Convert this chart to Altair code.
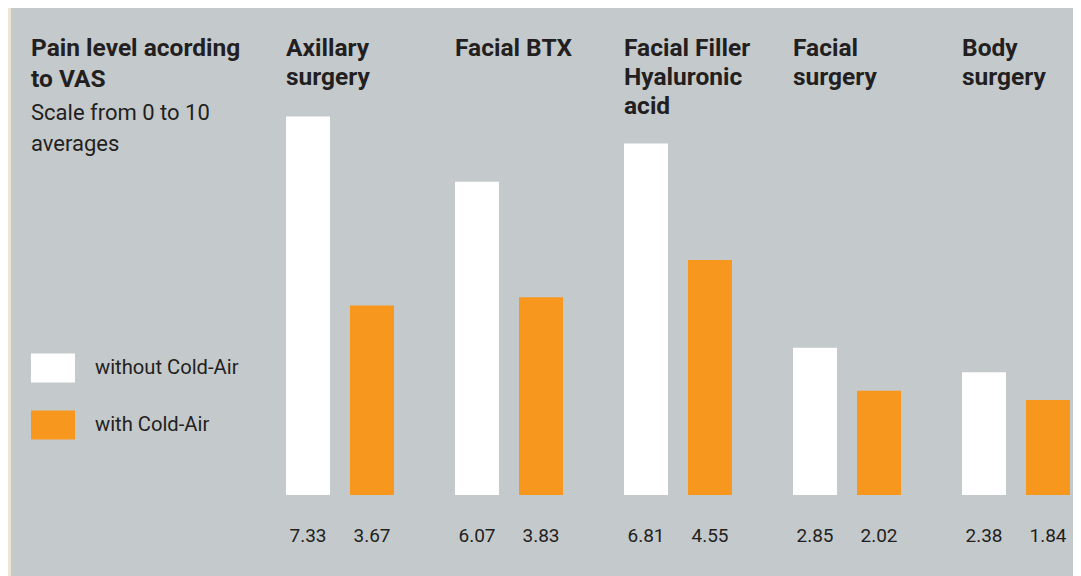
import altair as alt
import pandas as pd

# ---- data ----
categories = ["Axillary surgery", "Facial BTX", "Facial Filler Hyaluronic acid",
              "Facial surgery", "Body surgery"]
category_lines = [["Axillary", "surgery"], ["Facial BTX"],
                  ["Facial Filler", "Hyaluronic", "acid"],
                  ["Facial", "surgery"], ["Body", "surgery"]]
series = ["without Cold-Air", "with Cold-Air"]
without_cold_air = [7.33, 6.07, 6.81, 2.85, 2.38]
with_cold_air = [3.67, 3.83, 4.55, 2.02, 1.84]

title_lines = ["Pain level acording", "to VAS"]
subtitle_lines = ["Scale from 0 to 10", "averages"]

# ---- tables ----
rows = []
for c, a, b in zip(categories, without_cold_air, with_cold_air):
    rows.append({"cat": c, "series": series[0], "value": a})
    rows.append({"cat": c, "series": series[1], "value": b})
df = pd.DataFrame(rows)
labels_df = pd.DataFrame({"cat": categories, "lines": category_lines})

FONT = "Roboto"
TXT = "#231F20"
GRAY = "#C4C9CC"
BEIGE = "#EDE4D3"
ORANGE = "#F7971E"

x_enc = alt.X("cat:N", sort=categories, axis=None,
              scale=alt.Scale(paddingInner=0.361, paddingOuter=0))
xoff_enc = alt.XOffset("series:N", sort=series,
                       scale=alt.Scale(paddingInner=0.3125, paddingOuter=0))

bars = alt.Chart(df).mark_bar().encode(
    x=x_enc,
    xOffset=xoff_enc,
    y=alt.Y("value:Q", axis=None, scale=alt.Scale(domain=[0, 8])),
    color=alt.Color(
        "series:N", sort=series,
        scale=alt.Scale(domain=series, range=["#FFFFFF", ORANGE]),
        legend=alt.Legend(
            orient="none", legendX=-255, legendY=264, title=None,
            symbolType="M-1,-0.66H1V0.66H-1Z", symbolSize=1936,
            symbolStrokeWidth=0, symbolOpacity=1,
            labelFont=FONT, labelFontSize=20.2, labelColor=TXT,
            labelOffset=20, rowPadding=20, padding=0,
        ),
    ),
)

values = alt.Chart(df).mark_text(
    font=FONT, fontSize=19, color=TXT, baseline="alphabetic", align="center"
).encode(
    x=x_enc,
    xOffset=xoff_enc,
    y=alt.value(460),
    text=alt.Text("value:Q", format=".2f"),
)

cat_labels = alt.Chart(labels_df).mark_text(
    font=FONT, fontSize=24.5, fontWeight="bold", color=TXT,
    align="left", baseline="alphabetic", lineHeight=29,
).encode(
    x=alt.X("cat:N", sort=categories, bandPosition=0, axis=None),
    y=alt.value(-26),
    text="lines",
)

strip = alt.Chart(pd.DataFrame({"a": [0]})).mark_rect(color=BEIGE).encode(
    x=alt.value(-278), x2=alt.value(-275), y=alt.value(-74), y2=alt.value(494)
)

chart = alt.layer(strip, bars, values, cat_labels).properties(
    width=784, height=413,
    padding={"left": 278, "top": 74, "right": 3, "bottom": 81},
    autosize=alt.AutoSizeParams(type="none"),
    background=GRAY,
    title=alt.TitleParams(
        text=title_lines, subtitle=subtitle_lines,
        anchor="start", frame="group", orient="top", offset=0,
        dx=-255, dy=148,
        font=FONT, fontSize=24.5, fontWeight="bold", color=TXT, lineHeight=31,
        subtitleFont=FONT, subtitleFontSize=22, subtitleFontWeight="normal",
        subtitleColor=TXT, subtitleLineHeight=31, subtitlePadding=11,
    ),
).configure_view(stroke=None)

chart.save("out.html", embed_options={"renderer": "svg", "actions": False})
